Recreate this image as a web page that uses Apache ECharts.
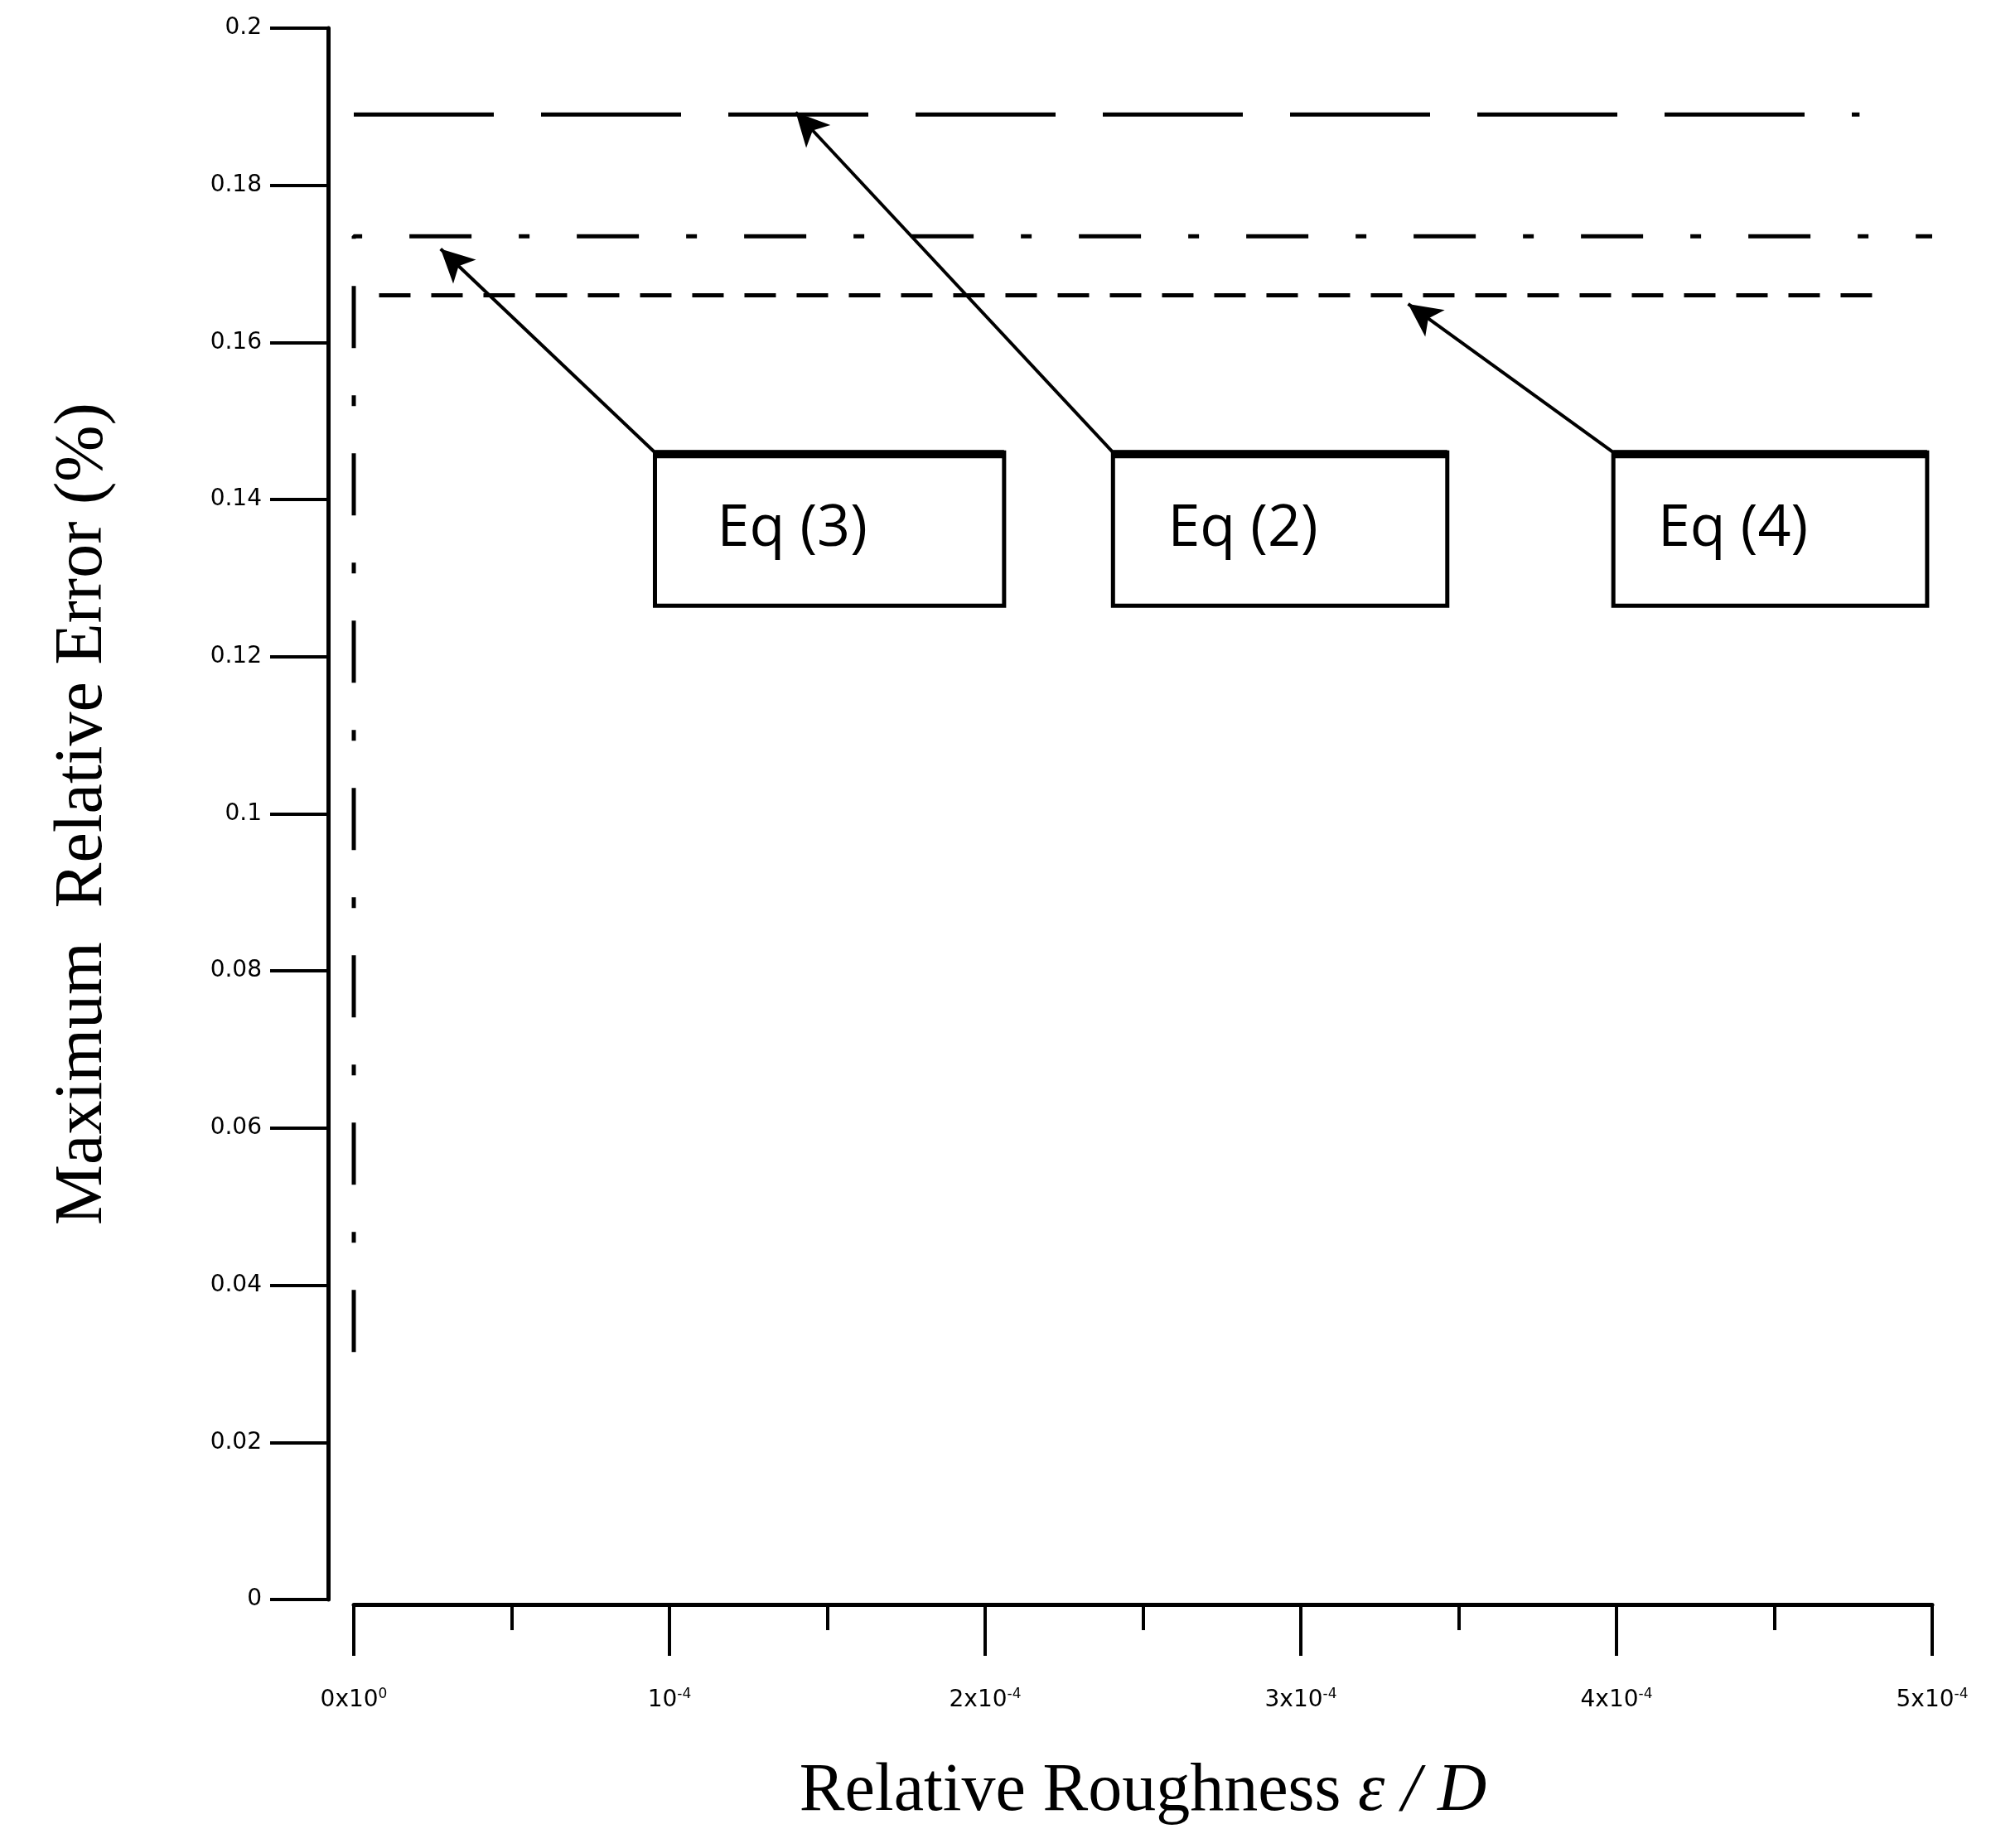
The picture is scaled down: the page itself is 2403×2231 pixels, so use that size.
<!DOCTYPE html>
<html><head><meta charset="utf-8">
<script src="https://cdn.jsdelivr.net/npm/echarts@6/dist/echarts.min.js"></script>
<style>html,body{margin:0;background:#fff}#c{width:2403px;height:2231px}</style>
</head><body><div id="c"></div>
<script>
var eq2 = [[0, 0.189], [4.77e-4, 0.189]];
var eq3 = [[0, 0.0315], [0, 0.1735], [5e-4, 0.1735]];
var eq4 = [[0.08e-4, 0.166], [4.86e-4, 0.166]];
var xTicks = ['0x10{s|0}', '10{s|-4}', '2x10{s|-4}', '3x10{s|-4}', '4x10{s|-4}', '5x10{s|-4}'];
// label boxes [x0, x1, yTop, yBottom], arrow tip [x, y]
var boxes = [
  {name: 'Eq (3)', box: [0.954e-4, 2.06e-4, 0.146, 0.1265], tip: [0.275e-4, 0.1719]},
  {name: 'Eq (2)', box: [2.405e-4, 3.464e-4, 0.146, 0.1265], tip: [1.40e-4, 0.1893]},
  {name: 'Eq (4)', box: [3.99e-4, 4.984e-4, 0.146, 0.1265], tip: [3.34e-4, 0.1649]}
];

var chart = echarts.init(document.getElementById('c'));
var arrows = boxes.map(function(b){ return [{coord: [b.box[0], b.box[2]]}, {coord: b.tip}]; });

chart.setOption({
  animation: false,
  grid: {left: 427, right: 71, top: 34, bottom: 300},
  xAxis: {
    type: 'value', min: 0, max: 5e-4, interval: 1e-4, offset: 6,
    axisLine: {onZero: false, lineStyle: {color: '#000', width: 5}},
    axisTick: {inside: false, length: 62, lineStyle: {color: '#000', width: 4}},
    minorTick: {show: true, splitNumber: 2, length: 31, lineStyle: {color: '#000', width: 4}},
    splitLine: {show: false},
    axisLabel: {margin: 100, formatter: function(v){ return xTicks[Math.round(v / 1e-4)]; },
      fontFamily: 'DejaVu Sans', fontSize: 28, color: '#000',
      rich: {s: {fontSize: 17, verticalAlign: 'top', padding: [0, 0, 14, 0]}}},
    name: '{n|Relative Roughness }{i|ε / D}', nameLocation: 'middle', nameGap: 185,
    nameTextStyle: {rich: {n: {fontFamily: 'Liberation Serif', fontSize: 82, color: '#000'},
      i: {fontFamily: 'Liberation Serif', fontStyle: 'italic', fontSize: 82, color: '#000'}}}
  },
  yAxis: {
    type: 'value', min: 0, max: 0.2, interval: 0.02, offset: 31,
    axisLine: {onZero: false, lineStyle: {color: '#000', width: 5}},
    axisTick: {length: 70, lineStyle: {color: '#000', width: 4}},
    splitLine: {show: false},
    axisLabel: {margin: 80, formatter: function(v){ return +v.toFixed(2) + ''; },
      fontFamily: 'DejaVu Sans', fontSize: 28, color: '#000'},
    name: 'Maximum  Relative Error (%)', nameLocation: 'middle', nameGap: 255,
    nameTextStyle: {fontFamily: 'Liberation Serif', fontSize: 82, color: '#000'}
  },
  series: [
    {type: 'line', data: eq2, symbol: 'none', lineStyle: {color: '#000', width: 5, type: [169, 57]}},
    {type: 'line', data: eq3, symbol: 'none', lineStyle: {color: '#000', width: 5, type: [75, 57, 13, 57]},
      markLine: {silent: true, symbol: ['none', 'arrow'], symbolSize: [30, 40], label: {show: false},
        lineStyle: {color: '#000', width: 4, type: 'solid'}, data: arrows}},
    {type: 'line', data: eq4, symbol: 'none', lineStyle: {color: '#000', width: 5, type: [38, 25]}}
  ]
});

var g = [];
boxes.forEach(function(b){
  var p0 = chart.convertToPixel({gridIndex: 0}, [b.box[0], b.box[2]]);
  var p1 = chart.convertToPixel({gridIndex: 0}, [b.box[1], b.box[3]]);
  g.push({type: 'rect', shape: {x: p0[0], y: p0[1], width: p1[0] - p0[0], height: p1[1] - p0[1]},
    style: {fill: '#fff', stroke: '#000', lineWidth: 5}});
  g.push({type: 'line', shape: {x1: p0[0], y1: p0[1] + 2, x2: p1[0], y2: p0[1] + 2}, style: {stroke: '#000', lineWidth: 10}});
  g.push({type: 'text', x: (p0[0] + p1[0]) / 2 - 45, y: (p0[1] + p1[1]) / 2,
    style: {text: b.name, fontFamily: 'Open Sans', fontSize: 70, fill: '#000', align: 'center', verticalAlign: 'middle'}});
});
chart.setOption({graphic: g});
</script></body></html>
